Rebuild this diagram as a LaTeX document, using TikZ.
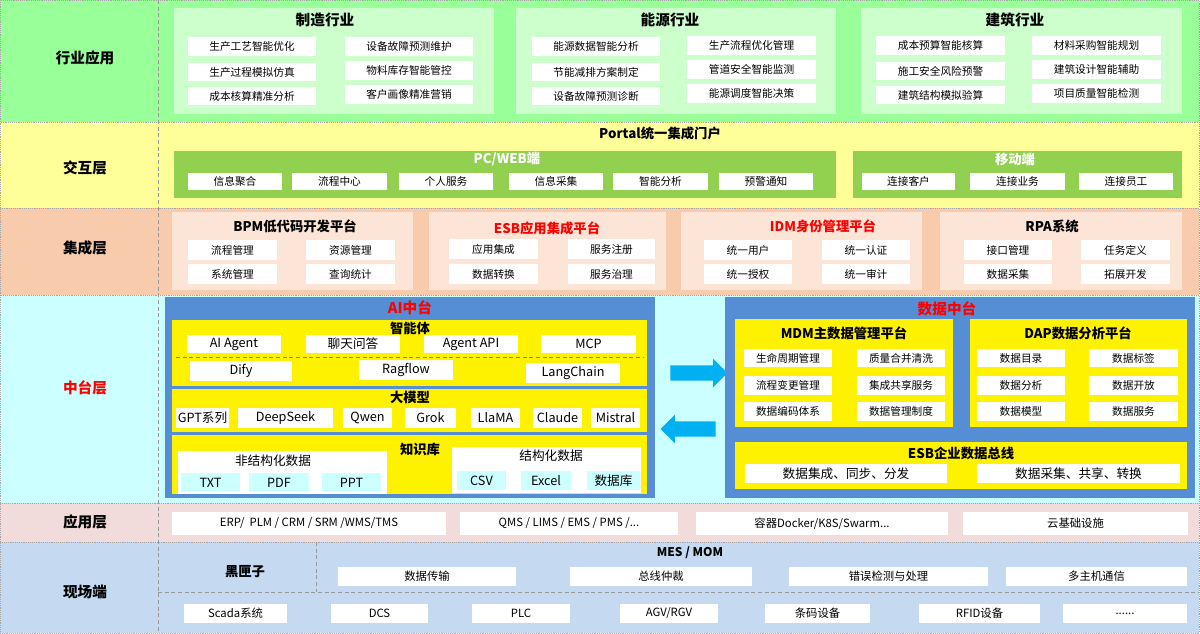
\documentclass[tikz,border=0pt]{standalone}
\usepackage{fontspec}
\setmainfont{Noto Sans CJK SC}
\usetikzlibrary{shapes.arrows}
\definecolor{gA}{HTML}{99FF99}\definecolor{gP}{HTML}{CCFFCC}
\definecolor{yA}{HTML}{FFFF99}\definecolor{gW}{HTML}{92D050}
\definecolor{pA}{HTML}{F8CBAD}\definecolor{pP}{HTML}{FCE4D6}
\definecolor{cA}{HTML}{CCFFFF}\definecolor{bP}{HTML}{558ED5}
\definecolor{kA}{HTML}{F2DCDB}\definecolor{lA}{HTML}{C5D9F1}
\definecolor{ar}{HTML}{00B0F0}\definecolor{cy}{HTML}{CCFFFF}
\newcommand\bx[7]{\node[#1,minimum width={(#4-#3)*0.75pt},minimum height={(#6-#5)*0.75pt}] (#2) at ({(#3+#4)/2},{(#5+#6)/2}) {#7};}
\begin{document}
\begin{tikzpicture}[x=0.75pt,y=-0.75pt,
 every node/.style={inner sep=0,outer sep=0},
 band/.style={draw=gray!70,densely dotted},
 item/.style={fill=white,font=\fontsize{8}{9}\selectfont},
 big/.style={fill=white,font=\fontsize{9.5}{11}\selectfont},
 ttl/.style={font=\bfseries\fontsize{10}{12}\selectfont},
 lbl/.style={font=\bfseries\fontsize{11}{13}\selectfont},
 sep/.style={draw=gray!80,densely dashed},
 blue arrow/.style={single arrow,fill=ar,inner xsep=0pt,inner ysep=5.5pt,single arrow head extend=5pt,single arrow head indent=0pt}]
\useasboundingbox (0,0) rectangle (1200,634);
% bands
\bx{band,fill=gA}{r1}{0}{1199}{0}{122}{}
\bx{band,fill=yA}{r2}{0}{1199}{122}{208}{}
\bx{band,fill=pA}{r3}{0}{1199}{208}{295}{}
\bx{band,fill=cA}{r4}{0}{1199}{295}{503}{}
\bx{band,fill=kA}{r5}{0}{1199}{503}{542}{}
\bx{band,fill=lA}{r6}{0}{1199}{542}{633}{}
\coordinate (v1) at (158,0);\coordinate (v2) at (158,633);
\draw[sep] (v1)--(v2);
\node[lbl] (l1) at (85,58) {行业应用};
\node[lbl] (l2) at (85,168) {交互层};
\node[lbl] (l3) at (85,248) {集成层};
\node[lbl,text=red] (l4) at (85,388) {中台层};
\node[lbl] (l5) at (85,522) {应用层};
\node[lbl] (l6) at (85,592) {现场端};
% row1
\bx{fill=gP}{p1}{174}{494}{8}{114}{}
\bx{fill=gP}{p2}{516}{836}{8}{114}{}
\bx{fill=gP}{p3}{861}{1182}{8}{114}{}
\node[ttl,font=\bfseries\fontsize{11}{13}\selectfont] (t1) at (325,20) {制造行业};
\node[ttl,font=\bfseries\fontsize{11}{13}\selectfont] (t2) at (670,20) {能源行业};
\node[ttl,font=\bfseries\fontsize{11}{13}\selectfont] (t3) at (1015,20) {建筑行业};
\bx{item}{a1}{188}{316}{37}{56}{生产工艺智能优化}
\bx{item}{a2}{188}{316}{63}{81}{生产过程模拟仿真}
\bx{item}{a3}{188}{316}{87}{105}{成本核算精准分析}
\bx{item}{a4}{345}{473}{37}{56}{设备故障预测维护}
\bx{item}{a5}{345}{473}{61}{80}{物料库存智能管控}
\bx{item}{a6}{345}{473}{85}{104}{客户画像精准营销}
\bx{item}{b1}{532}{660}{37}{56}{能源数据智能分析}
\bx{item}{b2}{532}{660}{63}{81}{节能减排方案制定}
\bx{item}{b3}{532}{660}{87}{105}{设备故障预测诊断}
\bx{item}{b4}{687}{816}{36}{55}{生产流程优化管理}
\bx{item}{b5}{687}{816}{60}{79}{管道安全智能监测}
\bx{item}{b6}{687}{816}{84}{103}{能源调度智能决策}
\bx{item}{c1}{876}{1005}{36}{55}{成本预算智能核算}
\bx{item}{c2}{876}{1005}{62}{80}{施工安全风险预警}
\bx{item}{c3}{876}{1005}{86}{104}{建筑结构模拟验算}
\bx{item}{c4}{1032}{1161}{36}{55}{材料采购智能规划}
\bx{item}{c5}{1032}{1161}{60}{79}{建筑设计智能辅助}
\bx{item}{c6}{1032}{1161}{84}{103}{项目质量智能检测}
% row2
\node[ttl] (portal) at (660,133) {Portal统一集成门户};
\bx{fill=gW}{pc}{174}{836}{151}{198}{}
\bx{fill=gW}{mb}{853}{1182}{151}{198}{}
\node[ttl,text=white] (pct) at (507,159) {PC/WEB端};
\node[ttl,text=white] (mbt) at (1015,159) {移动端};
\bx{item}{d1}{188}{282}{173}{190}{信息聚合}
\bx{item}{d2}{292}{387}{173}{190}{流程中心}
\bx{item}{d3}{399}{493}{173}{190}{个人服务}
\bx{item}{d4}{509}{603}{173}{190}{信息采集}
\bx{item}{d5}{613}{708}{173}{190}{智能分析}
\bx{item}{d6}{719}{813}{173}{190}{预警通知}
\bx{item}{e1}{862}{955}{173}{190}{连接客户}
\bx{item}{e2}{970}{1065}{173}{190}{连接业务}
\bx{item}{e3}{1079}{1173}{173}{190}{连接员工}
% row3
\bx{fill=pP}{q1}{172}{413}{212}{290}{}
\bx{fill=pP}{q2}{429}{666}{212}{290}{}
\bx{fill=pP}{q3}{681}{922}{212}{290}{}
\bx{fill=pP}{q4}{940}{1182}{212}{290}{}
\node[ttl] (s1) at (295,226) {BPM低代码开发平台};
\node[ttl,text=red] (s2) at (547,228) {ESB应用集成平台};
\node[ttl,text=red] (s3) at (823,226) {IDM身份管理平台};
\node[ttl] (s4) at (1052,226) {RPA系统};
\bx{item}{f1}{188}{277}{240}{260}{流程管理}
\bx{item}{f2}{306}{395}{240}{260}{资源管理}
\bx{item}{f3}{188}{277}{264}{284}{系统管理}
\bx{item}{f4}{306}{395}{264}{284}{查询统计}
\bx{item}{g1}{449}{538}{239}{259}{应用集成}
\bx{item}{g2}{568}{655}{239}{259}{服务注册}
\bx{item}{g3}{449}{538}{264}{284}{数据转换}
\bx{item}{g4}{568}{655}{264}{284}{服务治理}
\bx{item}{h1}{704}{792}{240}{260}{统一用户}
\bx{item}{h2}{822}{910}{240}{260}{统一认证}
\bx{item}{h3}{704}{792}{264}{284}{统一授权}
\bx{item}{h4}{822}{910}{264}{284}{统一审计}
\bx{item}{i1}{964}{1052}{240}{260}{接口管理}
\bx{item}{i2}{1081}{1170}{240}{260}{任务定义}
\bx{item}{i3}{964}{1052}{264}{284}{数据采集}
\bx{item}{i4}{1081}{1170}{264}{284}{拓展开发}
% row4 AI
\bx{fill=bP}{ai}{165}{655}{297}{498}{}
\node[ttl,text=red,font=\bfseries\fontsize{11}{13}\selectfont] (ait) at (410,308) {AI中台};
\bx{fill=yellow}{zn}{172}{647}{320}{386}{}
\node[ttl] (znt) at (410,328) {智能体};
\bx{big}{j1}{187}{281}{335}{353}{AI Agent}
\bx{big}{j2}{306}{400}{335}{353}{聊天问答}
\bx{big}{j3}{424}{518}{335}{353}{Agent API}
\bx{big}{j4}{541}{636}{335}{353}{MCP}
\coordinate (zl) at (176,357);\coordinate (zr) at (643,357);
\draw[sep,gray] (zl)--(zr);
\bx{big}{j5}{190}{292}{361}{381}{Dify}
\bx{big}{j6}{359}{453}{360}{380}{Ragflow}
\bx{big}{j7}{526}{620}{363}{383}{LangChain}
\bx{fill=yellow}{dm}{172}{647}{389}{432}{}
\node[ttl] (dmt) at (410,397) {大模型};
\bx{big}{k1}{176}{229}{408}{428}{GPT系列}
\bx{big}{k2}{238}{333}{408}{428}{DeepSeek}
\bx{big}{k3}{343}{392}{408}{428}{Qwen}
\bx{big}{k4}{405}{456}{408}{428}{Grok}
\bx{big}{k5}{471}{520}{408}{428}{LlaMA}
\bx{big}{k6}{533}{582}{408}{428}{Claude}
\bx{big}{k7}{591}{640}{408}{428}{Mistral}
\bx{fill=yellow}{zs}{172}{647}{435}{494}{}
\node[ttl] (zst) at (420,449) {知识库};
\bx{fill=white}{un}{178}{387}{451}{494}{}
\node[font=\fontsize{9.5}{11}\selectfont] (unt) at (273,461) {非结构化数据};
\bx{big,fill=cy}{m1}{181}{240}{473}{492}{TXT}
\bx{big,fill=cy}{m2}{249}{309}{473}{492}{PDF}
\bx{big,fill=cy}{m3}{322}{381}{473}{492}{PPT}
\bx{fill=white}{st}{452}{641}{447}{493}{}
\node[font=\fontsize{9.5}{11}\selectfont] (stt) at (551,456) {结构化数据};
\bx{big,fill=cy}{n1}{457}{506}{471}{490}{CSV}
\bx{big,fill=cy}{n2}{521}{571}{471}{490}{Excel}
\bx{big,fill=cy}{n3}{587}{640}{471}{490}{数据库}
% arrows
\node[blue arrow,minimum height=57*0.75pt] (ra) at (695,373) {};
\node[blue arrow,shape border rotate=180,minimum height=55*0.75pt] (la) at (692,429) {};
% data platform
\bx{fill=bP}{dp}{725}{1195}{297}{498}{}
\node[ttl,text=red,font=\bfseries\fontsize{11}{13}\selectfont] (dpt) at (947,309) {数据中台};
\bx{fill=yellow}{mdm}{735}{953}{319}{427}{}
\node[ttl] (mdmt) at (844,333) {MDM主数据管理平台};
\bx{item}{o1}{744}{832}{349}{367}{生命周期管理}
\bx{item}{o2}{857}{945}{349}{367}{质量合并清洗}
\bx{item}{o3}{744}{832}{376}{395}{流程变更管理}
\bx{item}{o4}{857}{945}{376}{395}{集成共享服务}
\bx{item}{o5}{744}{832}{402}{421}{数据编码体系}
\bx{item}{o6}{857}{945}{402}{421}{数据管理制度}
\bx{fill=yellow}{dap}{970}{1187}{319}{427}{}
\node[ttl] (dapt) at (1078,333) {DAP数据分析平台};
\bx{item}{u1}{977}{1065}{349}{367}{数据目录}
\bx{item}{u2}{1089}{1178}{349}{367}{数据标签}
\bx{item}{u3}{977}{1065}{376}{395}{数据分析}
\bx{item}{u4}{1089}{1178}{376}{395}{数据开放}
\bx{item}{u5}{977}{1065}{402}{421}{数据模型}
\bx{item}{u6}{1089}{1178}{402}{421}{数据服务}
\bx{fill=yellow}{esb}{735}{1187}{442}{489}{}
\node[ttl] (esbt) at (961,453) {ESB企业数据总线};
\bx{big}{w1}{745}{947}{464}{483}{数据集成、同步、分发}
\bx{big}{w2}{977}{1180}{464}{483}{数据采集、共享、转换}
% row5
\bx{item,font=\fontsize{8.5}{10}\selectfont}{x1}{172}{446}{512}{535}{ERP/\ \ PLM / CRM / SRM /WMS/TMS}
\bx{item,font=\fontsize{8.5}{10}\selectfont}{x2}{460}{678}{512}{535}{QMS / LIMS / EMS / PMS /...}
\bx{item,font=\fontsize{8.5}{10}\selectfont}{x3}{696}{948}{512}{535}{容器Docker/K8S/Swarm...}
\bx{item,font=\fontsize{8.5}{10}\selectfont}{x4}{963}{1188}{512}{535}{云基础设施}
% row6
\coordinate (h1) at (158,592);\coordinate (h2) at (1199,592);
\draw[sep] (h1)--(h2);
\coordinate (vv1) at (316,542);\coordinate (vv2) at (316,592);
\draw[sep] (vv1)--(vv2);
\node[ttl] (hx) at (245,572) {黑匣子};
\node[ttl,font=\bfseries\fontsize{9}{11}\selectfont] (mes) at (690,553) {MES / MOM};
\bx{item,font=\fontsize{8.5}{10}\selectfont}{y1}{338}{516}{567}{586}{数据传输}
\bx{item,font=\fontsize{8.5}{10}\selectfont}{y2}{570}{752}{567}{586}{总线仲裁}
\bx{item,font=\fontsize{8.5}{10}\selectfont}{y3}{789}{988}{567}{586}{错误检测与处理}
\bx{item,font=\fontsize{8.5}{10}\selectfont}{y4}{1006}{1187}{567}{586}{多主机通信}
\bx{item,font=\fontsize{8.5}{10}\selectfont}{z1}{184}{287}{604}{623}{Scada系统}
\bx{item,font=\fontsize{8.5}{10}\selectfont}{z2}{331}{428}{604}{623}{DCS}
\bx{item,font=\fontsize{8.5}{10}\selectfont}{z3}{472}{570}{604}{623}{PLC}
\bx{item,font=\fontsize{8.5}{10}\selectfont}{z4}{620}{718}{604}{623}{AGV/RGV}
\bx{item,font=\fontsize{8.5}{10}\selectfont}{z5}{765}{870}{604}{623}{条码设备}
\bx{item,font=\fontsize{8.5}{10}\selectfont}{z6}{919}{1040}{604}{623}{RFID设备}
\bx{item,font=\fontsize{8.5}{10}\selectfont}{z7}{1063}{1187}{604}{623}{......}
\end{tikzpicture}
\end{document}
